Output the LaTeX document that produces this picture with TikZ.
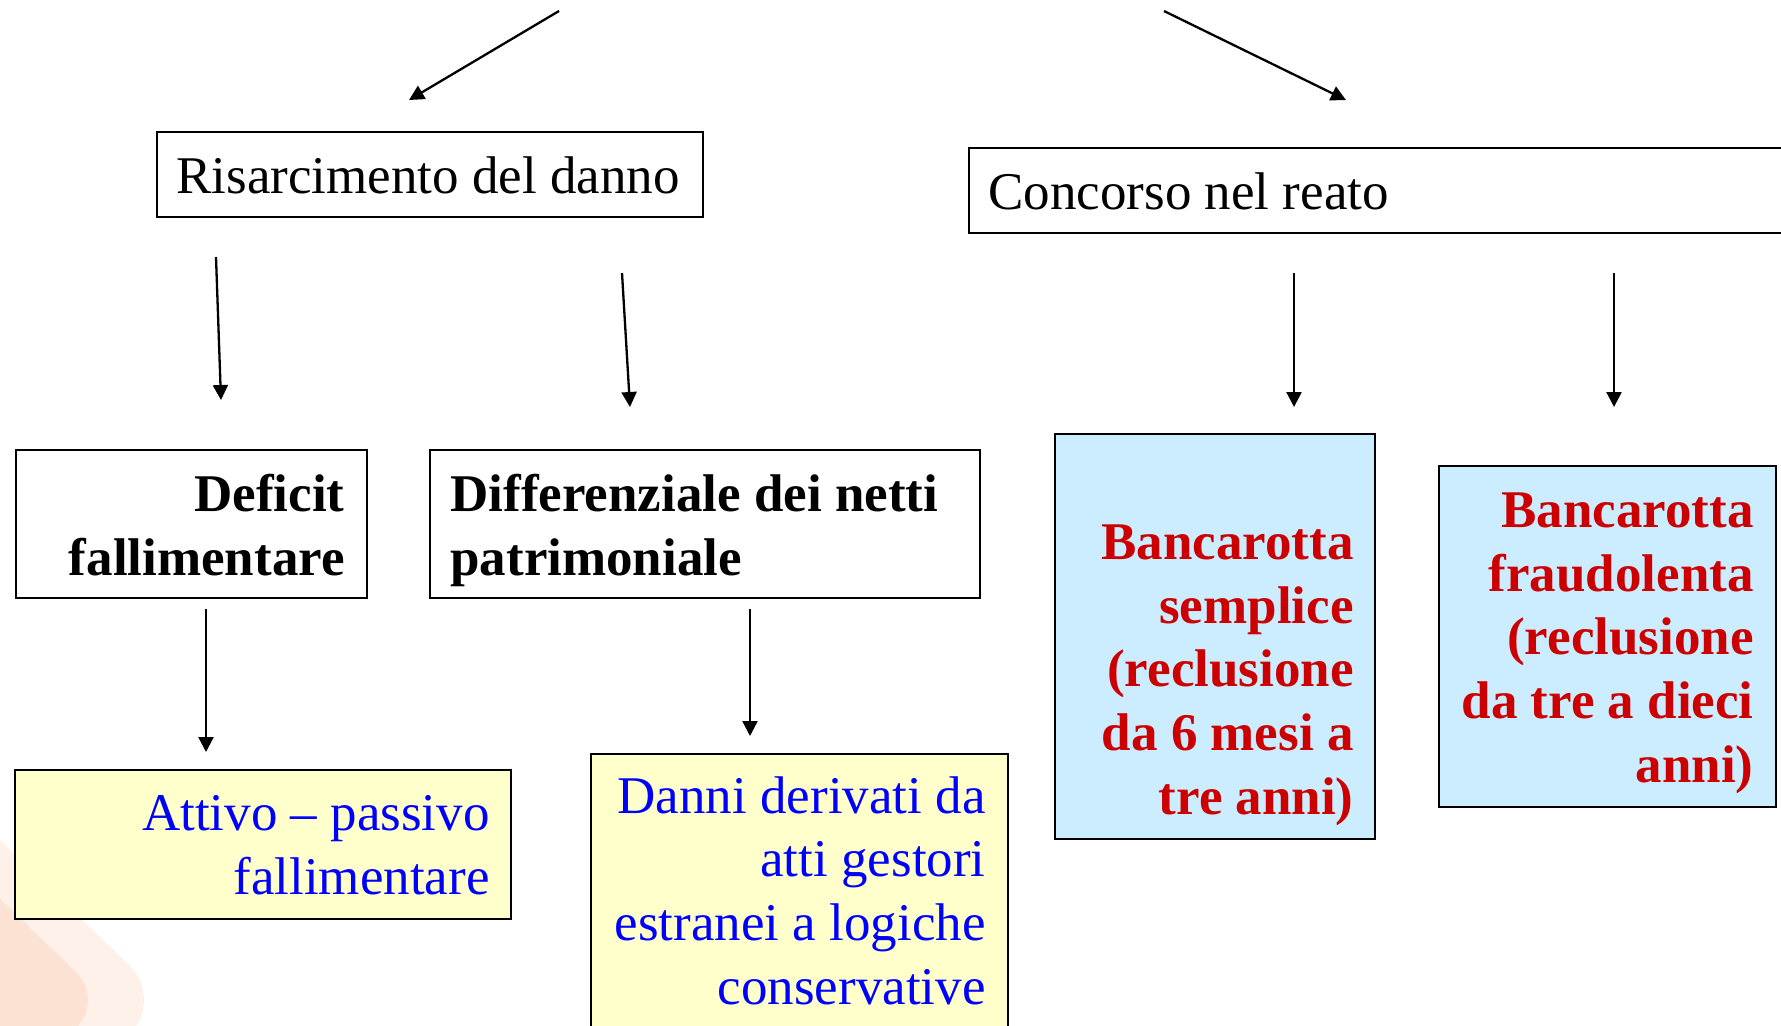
\documentclass[tikz,border=0pt]{standalone}
\usepackage{fontspec}
\setmainfont{Liberation Serif}
\usetikzlibrary{arrows.meta}
\definecolor{boxyellow}{RGB}{255,255,204}
\definecolor{boxblue}{RGB}{204,236,255}
\definecolor{txtred}{RGB}{204,0,0}
\definecolor{txtblue}{RGB}{0,0,255}
\definecolor{peachin}{RGB}{252,226,211}
\definecolor{peachout}{RGB}{254,241,233}
\begin{document}
\begin{tikzpicture}[x=0.5pt,y=-0.5pt,
  box/.style={draw=black, line width=1.1pt, anchor=north west, inner sep=0pt},
  lbl/.style={font=\fontsize{26.5}{31.8}\selectfont, inner sep=0pt},
  boldlbl/.style={lbl, font=\fontsize{26.5}{31.8}\selectfont\bfseries},
  conn/.style={line width=1.15pt, -{Triangle[length=7.5pt,width=7.5pt]}}]
\useasboundingbox (0,0) rectangle (1781,1025);
\clip (0,0) rectangle (1781,1025);
% background decoration
\fill[peachout, rounded corners=25] (-400,453) -- (165,1000) -- (-400,1547) -- cycle;
\fill[peachin, rounded corners=20] (-400,513) -- (105,1000) -- (-400,1487) -- cycle;
% top arrows
\coordinate (a1s) at (559,11);  \coordinate (a1e) at (409,100);
\coordinate (a2s) at (1164,11); \coordinate (a2e) at (1346,100);
\draw[conn] (a1s) -- (a1e);
\draw[conn] (a2s) -- (a2e);
% level 1 boxes
\node[box, fill=white, minimum width=273pt, minimum height=42.5pt] (ris) at (156,131) {};
\node[lbl, anchor=base west] (ristxt) at (176,193) {Risarcimento del danno};
\node[box, fill=white, minimum width=420pt, minimum height=42.5pt] (con) at (968,147) {};
\node[lbl, anchor=base west] (contxt) at (988,209) {Concorso nel reato};
% arrows to level 2
\coordinate (a3s) at (216,257);  \coordinate (a3e) at (221,400);
\coordinate (a4s) at (622,273);  \coordinate (a4e) at (630,407);
\coordinate (a5s) at (1294,273); \coordinate (a5e) at (1294,407);
\coordinate (a6s) at (1614,273); \coordinate (a6e) at (1614,407);
\draw[conn] (a3s) -- (a3e);
\draw[conn] (a4s) -- (a4e);
\draw[conn] (a5s) -- (a5e);
\draw[conn] (a6s) -- (a6e);
% level 2 boxes
\node[box, fill=white, minimum width=175.5pt, minimum height=74pt] (def) at (15,449) {};
\node[boldlbl, anchor=base east, align=right] (deftxt) at (345,575) {Deficit\\fallimentare};
\node[box, fill=white, minimum width=275pt, minimum height=74pt] (dif) at (429,449) {};
\node[boldlbl, anchor=base west, align=left] (diftxt) at (450,575) {Differenziale dei netti\\patrimoniale};
\node[box, fill=boxblue, minimum width=160pt, minimum height=202.5pt] (sem) at (1054,433) {};
\node[boldlbl, text=txtred, anchor=base east, align=right] (semtxt) at (1354,814) {Bancarotta\\semplice\\(reclusione\\da 6 mesi a\\tre anni)};
\node[box, fill=boxblue, minimum width=168.5pt, minimum height=170.5pt] (fra) at (1438,465) {};
\node[boldlbl, text=txtred, anchor=base east, align=right] (fratxt) at (1754,782) {Bancarotta\\fraudolenta\\(reclusione\\da tre a dieci\\anni)};
% arrows to level 3
\coordinate (a7s) at (206,609); \coordinate (a7e) at (206,752);
\coordinate (a8s) at (750,609); \coordinate (a8e) at (750,736);
\draw[conn] (a7s) -- (a7e);
\draw[conn] (a8s) -- (a8e);
% level 3 boxes
\node[box, fill=boxyellow, minimum width=248pt, minimum height=74.5pt] (att) at (14,769) {};
\node[lbl, text=txtblue, anchor=base east, align=right] (atttxt) at (490,894) {Attivo -- passivo\\fallimentare};
\node[box, fill=boxyellow, minimum width=208.5pt, minimum height=150pt] (dan) at (590,753) {};
\node[lbl, text=txtblue, anchor=base east, align=right] (dantxt) at (986,1004) {Danni derivati da\\atti gestori\\estranei a logiche\\conservative};
\end{tikzpicture}
\end{document}
